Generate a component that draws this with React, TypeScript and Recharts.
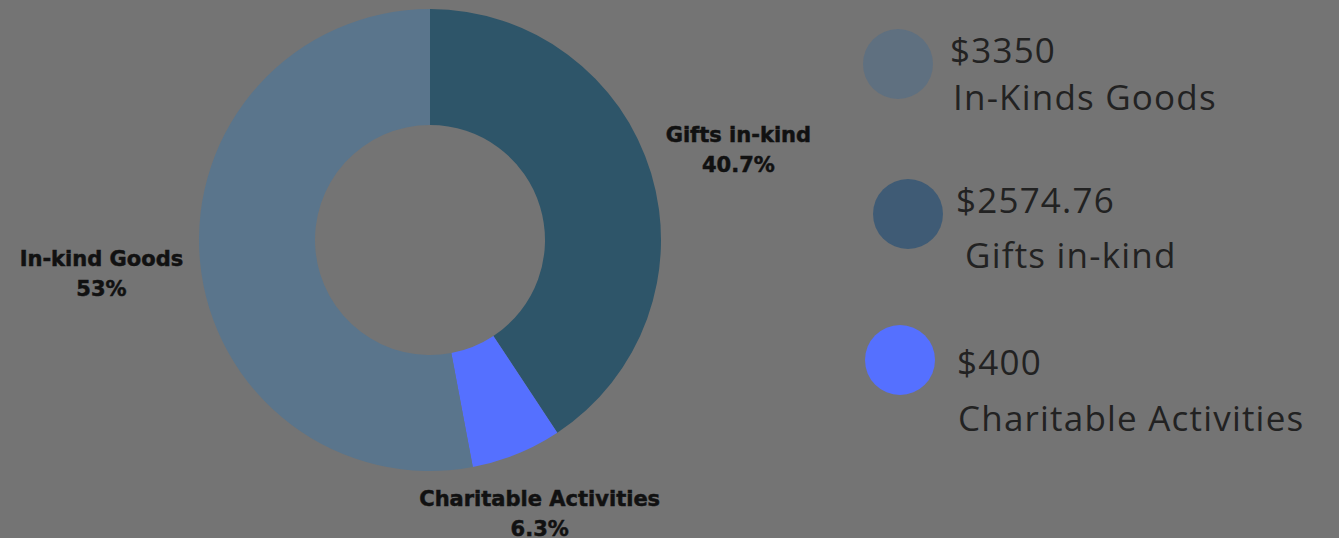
import { PieChart, Pie, Cell, Legend } from 'recharts'

const categories = ['Gifts in-kind', 'Charitable Activities', 'In-kind Goods']
const amounts = [2574.76, 400, 3350]
const sliceColors = ['#2e5569', '#5570ff', '#5a758c']

// legend is listed in a different order, with its own wording and swatch colours
const legendOrder = [2, 0, 1]
const legendNames = ['Gifts in-kind', 'Charitable Activities', 'In-Kinds Goods']
const legendAmounts = ['$2574.76', '$400', '$3350']
const legendColors = ['#3f5b75', '#5570ff', '#5f7080']

const RADIAN = Math.PI / 180
const labelGap = [91, 61, 99]

const data = categories.map((name, i) => ({ name, value: amounts[i] }))

function fmtPct(p: number) {
  const s = (p * 100).toFixed(1)
  return (s.endsWith('.0') ? s.slice(0, -2) : s) + '%'
}

function renderLabel(props: any) {
  const { cx, cy, midAngle, outerRadius, percent, index, name } = props
  const r = outerRadius + labelGap[index]
  const x = cx + r * Math.cos(-midAngle * RADIAN)
  const y = cy + r * Math.sin(-midAngle * RADIAN)
  return (
    <text
      x={x}
      y={y}
      textAnchor="middle"
      fill="#111"
      stroke="#111"
      strokeWidth={0.5}
      fontFamily="'DejaVu Sans', sans-serif"
      fontWeight={700}
      fontSize={21}
    >
      <tspan x={x} y={y - 5}>{name}</tspan>
      <tspan x={x} y={y + 25}>{fmtPct(percent)}</tspan>
    </text>
  )
}

function LegendContent() {
  const rows = [
    { cx: 898, cy: 64, tx: 950, ty1: 63, tx2: 953, ty2: 110 },
    { cx: 908, cy: 214, tx: 956, ty1: 213, tx2: 965, ty2: 268 },
    { cx: 900, cy: 360, tx: 957, ty1: 375, tx2: 958, ty2: 431 }
  ]
  const font = { fill: '#222', fontFamily: "'Open Sans', sans-serif", fontSize: 35, letterSpacing: 1.2 }
  return (
    <svg width={1339} height={538} style={{ position: 'absolute', left: 0, top: 0 }}>
      {legendOrder.map((k, i) => {
        const p = rows[i]
        return (
          <g key={k}>
            <circle cx={p.cx} cy={p.cy} r={35} fill={legendColors[k]} />
            <text x={p.tx} y={p.ty1} {...font}>
              {legendAmounts[k]}
            </text>
            <text x={p.tx2} y={p.ty2} {...font}>
              {legendNames[k]}
            </text>
          </g>
        )
      })}
    </svg>
  )
}

export default function App() {
  return (
    <div style={{ position: 'relative', width: 1339, height: 538, background: '#747474' }}>
      <style>{'body{margin:0;background:#747474}'}</style>
      <PieChart width={1339} height={538} margin={{ top: 0, right: 0, bottom: 0, left: 0 }}>
        <Pie
          data={data}
          dataKey="value"
          nameKey="name"
          cx={430}
          cy={240}
          innerRadius={115}
          outerRadius={231}
          startAngle={90}
          endAngle={-270}
          stroke="none"
          label={renderLabel}
          labelLine={false}
          isAnimationActive={false}
        >
          {data.map((d, i) => (
            <Cell key={d.name} fill={sliceColors[i]} />
          ))}
        </Pie>
        <Legend
          content={<LegendContent />}
          wrapperStyle={{ position: 'absolute', left: 0, top: 0, width: 1339, height: 538 }}
        />
      </PieChart>
    </div>
  )
}
